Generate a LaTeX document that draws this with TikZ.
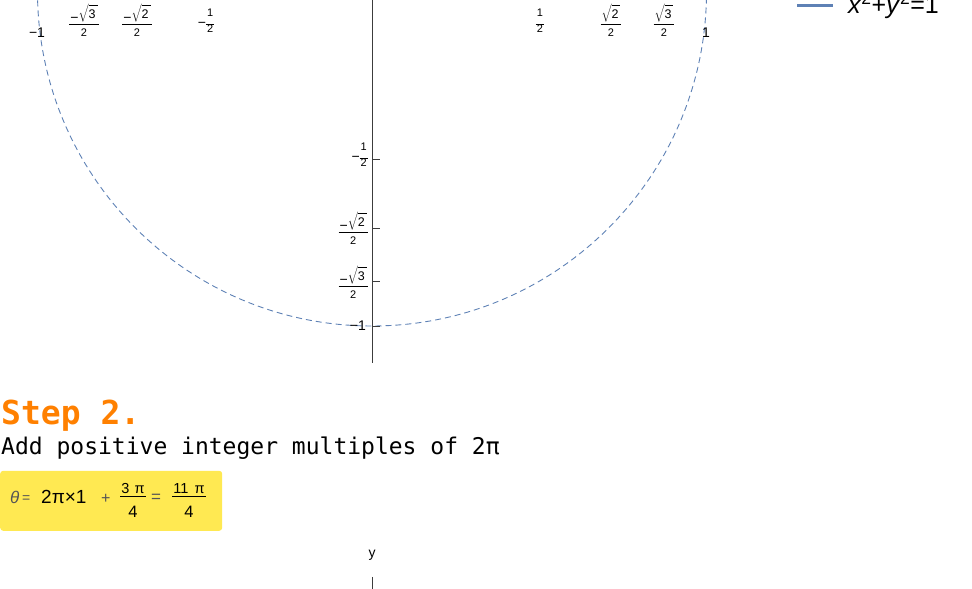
\documentclass[tikz,border=0pt]{standalone}
\usepackage{xcolor}
\usepackage{fontspec}
\setmainfont{Liberation Sans}
\newfontfamily\codefont{DejaVu Sans Mono}
\usetikzlibrary{positioning,calc}

\definecolor{circblue}{RGB}{94,129,181}
\definecolor{steporange}{RGB}{255,128,0}
\definecolor{hlyellow}{RGB}{255,233,82}
\definecolor{axisgray}{RGB}{60,60,60}
\definecolor{formgray}{RGB}{85,85,85}

\renewcommand{\arraystretch}{0}
\setlength{\arrayrulewidth}{0.9pt}
\newcommand{\tks}[1]{{\fontsize{11}{12}\selectfont #1}}
\newcommand{\tkroot}[1]{$\sqrt{\rule{0pt}{17pt}\raisebox{4pt}{\fontsize{12.5}{13}\selectfont #1}\hspace{2pt}}$}
\newcommand{\tickfr}[2]{\begin{tabular}{@{\hspace{1pt}}c@{\hspace{1pt}}}\rule[-1pt]{0pt}{21pt}#1\\\hline\rule[-5pt]{0pt}{17pt}\tks{#2}\end{tabular}}
\newcommand{\halffr}{\begin{tabular}{@{\hspace{1pt}}c@{\hspace{1pt}}}\rule[-7pt]{0pt}{15pt}\tks{1}\\\hline\rule[-7pt]{0pt}{15pt}\tks{2}\end{tabular}}
\newcommand{\formfr}[2]{\begin{tabular}{@{\hspace{1pt}}c@{\hspace{1pt}}}\rule[-2pt]{0pt}{23pt}{\fontsize{14.5}{15}\selectfont #1}\\\hline\rule[-2pt]{0pt}{23pt}{\fontsize{16.5}{17}\selectfont #2}\end{tabular}}

\tikzset{
    ticklab/.style={font=\fontsize{14}{16}\selectfont, inner sep=0pt},
    axisline/.style={draw=axisgray, line width=0.8pt},
    formpart/.style={anchor=base west, inner sep=0pt},
}

\begin{document}
\begin{tikzpicture}[x=1pt, y=1pt]
    \useasboundingbox (0,0) rectangle (972,589);

    % unit circle, cut by the top edge
    \begin{scope}
        \clip (0,0) rectangle (972,589);
        \draw[circblue, line width=0.9pt, dash pattern=on 6pt off 4pt] (372,597.5) circle[radius=334.5pt];
    \end{scope}

    \coordinate (ytop) at (372,589);
    \coordinate (ybot) at (372,226);
    \draw[axisline] (ytop) -- (ybot);

    \draw[axisline] (372,430) -- (380,430);
    \draw[axisline] (372,361) -- (380,361);
    \draw[axisline] (372,307.3) -- (380,307.3);
    \draw[axisline] (372,263) -- (380,263);

    \node[ticklab, anchor=east] (ylhalf) at (368,431) {−\halffr};
    \node[ticklab, anchor=east] (ylrtwo) at (368,359) {\tickfr{−\tkroot{2}}{2}};
    \node[ticklab, anchor=east] (ylrthree) at (368,305) {\tickfr{−\tkroot{3}}{2}};
    \node[ticklab, anchor=east] (ylone) at (366,263) {−1};

    \node[ticklab] (xlmone) at (37,556) {−1};
    \node[ticklab] (xlmrthree) at (84,567) {\tickfr{−\tkroot{3}}{2}};
    \node[ticklab] (xlmrtwo) at (137,567) {\tickfr{−\tkroot{2}}{2}};
    \node[ticklab] (xlmhalf) at (206,565) {−\halffr};
    \node[ticklab] (xlhalf) at (540,565) {\halffr};
    \node[ticklab] (xlrtwo) at (611,567) {\tickfr{\tkroot{2}}{2}};
    \node[ticklab] (xlrthree) at (664,567) {\tickfr{\tkroot{3}}{2}};
    \node[ticklab] (xlone) at (706,556) {1};

    % legend
    \coordinate (legs) at (797,583);
    \coordinate (lege) at (833,583);
    \draw[circblue, line width=3pt] (legs) -- (lege);
    \node[anchor=base west, inner sep=0pt, font=\fontsize{25}{28}\selectfont] (legtext) at (848,575) {\textit{x}\textsuperscript{2}+\textit{y}\textsuperscript{2}=1};

    \node[anchor=base west, inner sep=0pt, text=steporange, font=\codefont\bfseries\fontsize{33}{36}\selectfont] (steptitle) at (1,164) {Step 2.};
    \node[anchor=base west, inner sep=0pt, font=\codefont\fontsize{23}{26}\selectfont] (stepdesc) at (1,134) {Add positive integer multiples of 2π};

    \node[fill=hlyellow, rounded corners=3pt, anchor=south west, minimum width=222pt, minimum height=60pt, inner sep=0pt] (formbox) at (0,58) {};
    \node[formpart, text=formgray, font=\fontsize{17}{18}\selectfont\itshape] (theta) at (10,85) {θ};
    \node[formpart, text=formgray, font=\fontsize{14}{15}\selectfont] (eqa) at (22,86) {=};
    \node[formpart, font=\fontsize{19}{20}\selectfont] (twopi) at (41,85) {2π×1};
    \node[formpart, text=formgray, font=\fontsize{16}{17}\selectfont] (plus) at (101,85) {+};
    \node[inner sep=0pt] (fraca) at (133,93) {\formfr{3\hspace{5pt}π}{4}};
    \node[formpart, text=formgray, font=\fontsize{17}{18}\selectfont] (eqb) at (151,86) {=};
    \node[inner sep=0pt] (fracb) at (189,93) {\formfr{11\hspace{6pt}π}{4}};

    \node[font=\fontsize{14}{16}\selectfont, inner sep=0pt] (ylabel) at (372,34) {y};
    \coordinate (ystub) at (372,12);
    \coordinate (ystubend) at (372,0);
    \draw[axisline] (ystub) -- (ystubend);
\end{tikzpicture}
\end{document}
